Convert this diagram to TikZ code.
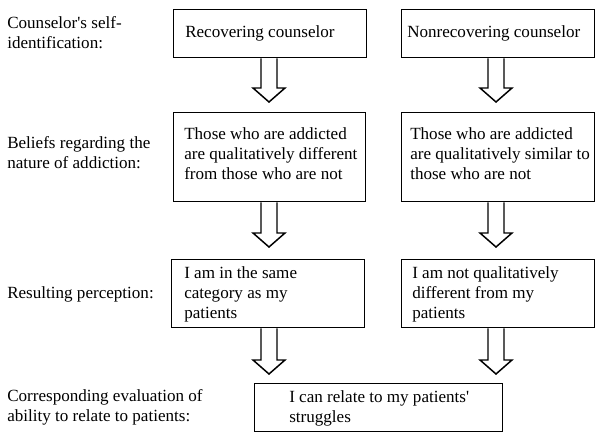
\documentclass[tikz,border=0pt]{standalone}
\usepackage{fontspec}
\setmainfont{Liberation Serif}[Ligatures=TeXOff]
\usetikzlibrary{calc}
\tikzset{
  box/.style={draw, line width=1.1pt, rectangle, inner sep=0pt, anchor=north west},
  txt/.style={anchor=north west, inner sep=0pt, align=left, font=\fontsize{12.8}{15}\selectfont},
  arr/.style={draw, line width=1.1pt, line join=miter}
}
\newcommand{\hollowarrow}[2]{%
  \draw[arr] let \p1=(#1.south), \p2=(#2) in
    (\x2-6pt,\y1) -- (\x2-6pt,\y2+10.5pt) -- (\x2-12pt,\y2+10.5pt) -- (\x2,\y2)
    -- (\x2+12pt,\y2+10.5pt) -- (\x2+6pt,\y2+10.5pt) -- (\x2+6pt,\y1);}
\begin{document}
\begin{tikzpicture}[x=0.75pt,y=-0.75pt]
\useasboundingbox (0,0) rectangle (604,438);
% boxes
\node[box, minimum width={193*0.75pt}, minimum height={48*0.75pt}] (b1) at (173,9) {};
\node[box, minimum width={193*0.75pt}, minimum height={48*0.75pt}] (b2) at (401,9) {};
\node[box, minimum width={192*0.75pt}, minimum height={89*0.75pt}] (b3) at (173,112) {};
\node[box, minimum width={193*0.75pt}, minimum height={89*0.75pt}] (b4) at (401,112) {};
\node[box, minimum width={193*0.75pt}, minimum height={68*0.75pt}] (b5) at (171,259) {};
\node[box, minimum width={193*0.75pt}, minimum height={68*0.75pt}] (b6) at (401,259) {};
\node[box, minimum width={248*0.75pt}, minimum height={48*0.75pt}] (b7) at (254,383) {};
% box texts
\node[txt] (t1) at (185,25) {Recovering counselor};
\node[txt] (t2) at (407,25) {Nonrecovering counselor};
\node[txt] (t3) at (184,127.5) {Those who are addicted\\are qualitatively different\\from those who are not};
\node[txt] (t4) at (410,127.5) {Those who are addicted\\are qualitatively similar to\\those who are not};
\node[txt] (t5) at (184,266.5) {I am in the same\\category as my\\patients};
\node[txt] (t6) at (412,266.5) {I am not qualitatively\\different from my\\patients};
\node[txt] (t7) at (289,390) {I can relate to my patients'\\struggles};
% left labels
\node[txt] (l1) at (7,16.5) {Counselor's self-\\identification:};
\node[txt] (l2) at (7,136.5) {Beliefs regarding the\\nature of addiction:};
\node[txt] (l3) at (7,286.5) {Resulting perception:};
\node[txt] (l4) at (7,389) {Corresponding evaluation of\\ability to relate to patients:};
% arrow tips
\coordinate (a1) at (269,102);
\coordinate (a2) at (496,102);
\coordinate (a3) at (269,247);
\coordinate (a4) at (496,247);
\coordinate (a5) at (269,374);
\coordinate (a6) at (496,374);
\hollowarrow{b1}{a1}
\hollowarrow{b2}{a2}
\hollowarrow{b3}{a3}
\hollowarrow{b4}{a4}
\hollowarrow{b5}{a5}
\hollowarrow{b6}{a6}
\end{tikzpicture}
\end{document}
